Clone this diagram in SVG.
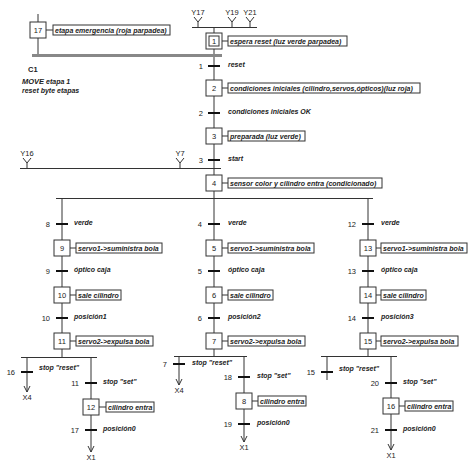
<svg xmlns="http://www.w3.org/2000/svg" width="474" height="465" viewBox="0 0 474 465">
<style>
.ln{stroke:#333;stroke-width:1;fill:none}
.tr{stroke:#111;stroke-width:2}
.st{fill:#fff;stroke:#333;stroke-width:1}
.lb{fill:#fff;stroke:#333;stroke-width:1}
.n{font-family:"Liberation Sans",Arial,sans-serif;font-size:7.5px;fill:#222}
.c{font-family:"Liberation Sans",Arial,sans-serif;font-size:7px;font-style:italic;font-weight:bold;fill:#222}
.sn{font-family:"Liberation Sans",Arial,sans-serif;font-size:7.5px;fill:#222;text-anchor:middle}
.e{text-anchor:end}
</style>
<rect width="474" height="465" fill="#fff"/>
<g id="connectors">
<!-- top Y line -->
<path class="ln" d="M192 27.5H257M198 27.5V22M194 17L198 22L202 17M232 27.5V22M228 17L232 22L236 17M250 27.5V22M246 17L250 22L254 17"/>
<path class="ln" d="M214 27.5V33M214 49V80M214 96V128M214 144V175M214 191V198.5"/>
<path class="ln" d="M38 14V22M38 38V55"/>
<line x1="32" y1="55.5" x2="222" y2="55.5" stroke="#888" stroke-width="3"/>
<!-- Y16 Y7 line -->
<path class="ln" d="M20 168.5H221M27 168.5V163M23 158L27 163L31 158M180 168.5V163M176 158L180 163L184 158"/>
<!-- divergence -->
<path class="ln" d="M56 198.5H373"/>
<path class="ln" d="M62 198V240M62 256V287M62 303V333M62 349V357"/>
<path class="ln" d="M214 198V240M214 256V287M214 303V333M214 349V356"/>
<path class="ln" d="M368 198V240M368 256V287M368 303V333M368 349V356"/>
<!-- bottom left -->
<path class="ln" d="M21 357.5H97M27 357V392M24 386L27 392L30 386M91 357V399M91 415V452M88 446L91 452L94 446"/>
<!-- bottom middle -->
<path class="ln" d="M174 356.5H247M179 356V385M176 379L179 385L182 379M244 356V393M244 409V442M241 436L244 442L247 436"/>
<!-- bottom right -->
<path class="ln" d="M321 356.5H397M327 356V380M391 356V398M391 414V450M388 444L391 450L394 444"/>
<!-- transitions -->
<path class="tr" d="M208 66H220M208 113H220M208 160H220M56 224H68M208 224H220M362 224H374M56 271H68M208 271H220M362 271H374M56 318H68M208 318H220M362 318H374M21 372H33M85 383H97M85 430H97M173 364H185M238 377H250M238 424H250M321 372H333M385 383H397M385 430H397"/>
<!-- label connectors -->
<path class="ln" d="M46 30H53M222 41H228M222 88H228M222 136H228M222 183H228M70 248H76M222 248H228M376 248H381M70 295H76M222 295H228M376 295H381M70 341H76M222 341H228M376 341H381M99 407H106M252 401H258M399 406H405"/>
</g>
<g id="step17"><rect class="st" x="30" y="22" width="16" height="16"/><text class="sn" x="38" y="33">17</text><rect class="lb" x="53" y="25" width="117" height="10"/><text class="c" x="55" y="32.5">etapa emergencia (roja parpadea)</text></g>
<g id="step1"><rect class="st" x="206" y="33" width="16" height="16"/><rect class="st" x="209" y="36" width="10" height="10"/><text class="sn" x="214" y="44">1</text><rect class="lb" x="228" y="36" width="119" height="10"/><text class="c" x="230" y="43.5">espera reset (luz verde parpadea)</text></g>
<g id="step2"><rect class="st" x="206" y="80" width="16" height="16"/><text class="sn" x="214" y="91">2</text><rect class="lb" x="228" y="83" width="192" height="10"/><text class="c" x="230" y="90.5">condiciones iniciales (cilindro,servos,ópticos)(luz roja)</text></g>
<g id="step3"><rect class="st" x="206" y="128" width="16" height="16"/><text class="sn" x="214" y="139">3</text><rect class="lb" x="228" y="131" width="77" height="10"/><text class="c" x="230" y="138.5">preparada (luz verde)</text></g>
<g id="step4"><rect class="st" x="206" y="175" width="16" height="16"/><text class="sn" x="214" y="186">4</text><rect class="lb" x="228" y="178" width="154" height="10"/><text class="c" x="230" y="185.5">sensor color y cilindro entra (condicionado)</text></g>
<g id="step9"><rect class="st" x="54" y="240" width="16" height="16"/><text class="sn" x="62" y="251">9</text><rect class="lb" x="76" y="243" width="86" height="10"/><text class="c" x="78" y="250.5">servo1-&gt;suministra bola</text></g>
<g id="step10"><rect class="st" x="54" y="287" width="16" height="16"/><text class="sn" x="62" y="298">10</text><rect class="lb" x="76" y="290" width="45" height="10"/><text class="c" x="78" y="297.5">sale cilindro</text></g>
<g id="step11"><rect class="st" x="54" y="333" width="16" height="16"/><text class="sn" x="62" y="344">11</text><rect class="lb" x="76" y="336" width="77" height="10"/><text class="c" x="78" y="343.5">servo2-&gt;expulsa bola</text></g>
<g id="step5"><rect class="st" x="206" y="240" width="16" height="16"/><text class="sn" x="214" y="251">5</text><rect class="lb" x="228" y="243" width="86" height="10"/><text class="c" x="230" y="250.5">servo1-&gt;suministra bola</text></g>
<g id="step6"><rect class="st" x="206" y="287" width="16" height="16"/><text class="sn" x="214" y="298">6</text><rect class="lb" x="228" y="290" width="45" height="10"/><text class="c" x="230" y="297.5">sale cilindro</text></g>
<g id="step7"><rect class="st" x="206" y="333" width="16" height="16"/><text class="sn" x="214" y="344">7</text><rect class="lb" x="228" y="336" width="77" height="10"/><text class="c" x="230" y="343.5">servo2-&gt;expulsa bola</text></g>
<g id="step13"><rect class="st" x="360" y="240" width="16" height="16"/><text class="sn" x="368" y="251">13</text><rect class="lb" x="381" y="243" width="86" height="10"/><text class="c" x="383" y="250.5">servo1-&gt;suministra bola</text></g>
<g id="step14"><rect class="st" x="360" y="287" width="16" height="16"/><text class="sn" x="368" y="298">14</text><rect class="lb" x="381" y="290" width="45" height="10"/><text class="c" x="383" y="297.5">sale cilindro</text></g>
<g id="step15"><rect class="st" x="360" y="333" width="16" height="16"/><text class="sn" x="368" y="344">15</text><rect class="lb" x="381" y="336" width="77" height="10"/><text class="c" x="383" y="343.5">servo2-&gt;expulsa bola</text></g>
<g id="step12"><rect class="st" x="83" y="399" width="16" height="16"/><text class="sn" x="91" y="410">12</text><rect class="lb" x="106" y="402" width="48" height="10"/><text class="c" x="108" y="409.5">cilindro entra</text></g>
<g id="step8"><rect class="st" x="236" y="393" width="16" height="16"/><text class="sn" x="244" y="404">8</text><rect class="lb" x="258" y="396" width="48" height="10"/><text class="c" x="260" y="403.5">cilindro entra</text></g>
<g id="step16"><rect class="st" x="383" y="398" width="16" height="16"/><text class="sn" x="391" y="409">16</text><rect class="lb" x="405" y="401" width="48" height="10"/><text class="c" x="407" y="408.5">cilindro entra</text></g>
<g id="texts">
<text class="sn" x="198" y="15">Y17</text><text class="sn" x="232" y="15">Y19</text><text class="sn" x="250" y="15">Y21</text>
<text class="sn" x="27" y="156">Y16</text><text class="sn" x="180" y="156">Y7</text>
<text class="n" x="28" y="72" font-weight="bold">C1</text>
<text class="c" x="22" y="84"><tspan font-size="7.5px">MOVE</tspan> etapa 1</text>
<text class="c" x="22" y="93">reset byte etapas</text>
<text class="n e" x="203" y="69">1</text><text class="c" x="228" y="67">reset</text>
<text class="n e" x="203" y="116">2</text><text class="c" x="228" y="114">condiciones iniciales OK</text>
<text class="n e" x="203" y="163">3</text><text class="c" x="228" y="161">start</text>
<text class="n e" x="50" y="227">8</text><text class="c" x="74" y="225">verde</text>
<text class="n e" x="50" y="274">9</text><text class="c" x="74" y="272">óptico caja</text>
<text class="n e" x="50" y="321">10</text><text class="c" x="74" y="319">posición1</text>
<text class="n e" x="202" y="227">4</text><text class="c" x="228" y="225">verde</text>
<text class="n e" x="202" y="274">5</text><text class="c" x="228" y="272">óptico caja</text>
<text class="n e" x="202" y="321">6</text><text class="c" x="228" y="319">posición2</text>
<text class="n e" x="356" y="227">12</text><text class="c" x="381" y="225">verde</text>
<text class="n e" x="356" y="274">13</text><text class="c" x="381" y="272">óptico caja</text>
<text class="n e" x="356" y="321">14</text><text class="c" x="381" y="319">posición3</text>
<text class="n e" x="15" y="375">16</text><text class="c" x="39" y="370">stop "reset"</text>
<text class="n e" x="79" y="386">11</text><text class="c" x="103" y="384">stop "set"</text>
<text class="n e" x="79" y="433">17</text><text class="c" x="103" y="431">posición0</text>
<text class="sn" x="27" y="400">X4</text><text class="sn" x="91" y="460">X1</text>
<text class="n e" x="167" y="367">7</text><text class="c" x="192" y="365">stop "reset"</text>
<text class="n e" x="232" y="380">18</text><text class="c" x="257" y="378">stop "set"</text>
<text class="n e" x="232" y="427">19</text><text class="c" x="257" y="425">posición0</text>
<text class="sn" x="179" y="393">X4</text><text class="sn" x="244" y="450">X1</text>
<text class="n e" x="315" y="375">15</text><text class="c" x="339" y="371">stop "reset"</text>
<text class="n e" x="379" y="386">20</text><text class="c" x="403" y="384">stop "set"</text>
<text class="n e" x="379" y="433">21</text><text class="c" x="403" y="431">posición0</text>
<text class="sn" x="391" y="458">X1</text>
</g>
</svg>
